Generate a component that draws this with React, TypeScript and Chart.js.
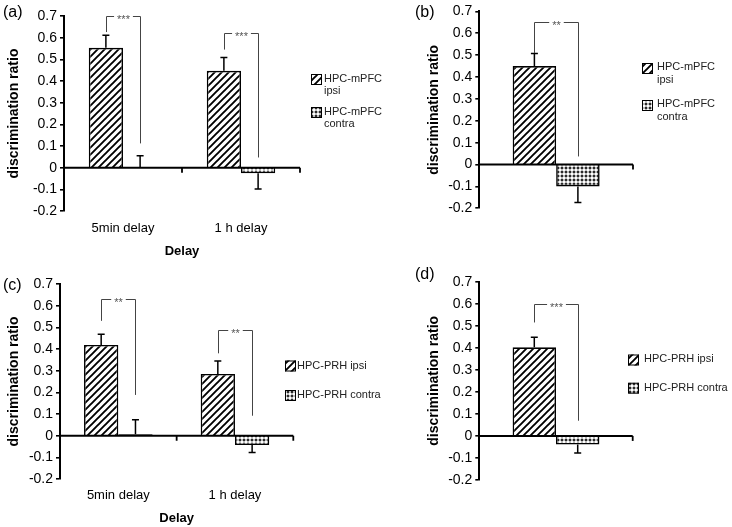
import React, { useEffect, useRef } from 'react';
import { Chart, registerables } from 'chart.js';

Chart.register(...registerables);

const FONT = '"Liberation Sans", Arial, Helvetica, sans-serif';

// ---- axis range ----
const Y_MIN = -0.2;
const Y_MAX = 0.7;
const Y_STEP = 0.1;
const Y_TITLE = 'discrimination ratio';
const X_TITLE = 'Delay';

// ---- categories ----
const delayCategories = ['5min delay', '1 h delay'];
const singleCategory = [''];

// ---- legend labels ----
const mpfcIpsiLegend = ['HPC-mPFC', 'ipsi'];
const mpfcContraLegend = ['HPC-mPFC', 'contra'];
const prhIpsiLegend = ['HPC-PRH ipsi'];
const prhContraLegend = ['HPC-PRH contra'];

// ---- panel (a) ----
const aIpsi = [0.553, 0.447];
const aIpsiSem = [0.058, 0.061];
const aContra = [0.003, -0.026];
const aContraSem = [0.052, 0.073];
const aBracketFrom = [0.626, 0.545];
const aBracketTop = [0.7, 0.623];
const aBracketTo = [0.112, 0.047];
const aStars = ['***', '***'];

// ---- panel (b) ----
const bIpsi = [0.45];
const bIpsiSem = [0.058];
const bContra = [-0.1];
const bContraSem = [0.073];
const bBracketFrom = [0.51];
const bBracketTop = [0.653];
const bBracketTo = [0.037];
const bStars = ['**'];

// ---- panel (c) ----
const cIpsi = [0.419, 0.285];
const cIpsiSem = [0.049, 0.06];
const cContra = [0.007, -0.043];
const cContraSem = [0.067, 0.035];
const cBracketFrom = [0.53, 0.38];
const cBracketTop = [0.629, 0.488];
const cBracketTo = [0.188, 0.092];
const cStars = ['**', '**'];

// ---- panel (d) ----
const dIpsi = [0.402];
const dIpsiSem = [0.046];
const dContra = [-0.039];
const dContraSem = [0.038];
const dBracketFrom = [0.515];
const dBracketTop = [0.597];
const dBracketTo = [0.069];
const dStars = ['***'];

type Layout = {
  left: number; top: number; w: number; h: number;
  padLeft: number; padTop: number; padRight: number;
  yWidth: number; xHeight: number; yTitlePad: number;
  xTickPad: number; xTitlePadBottom: number; catPct: number;
  letterX: number; letterY: number;
  swatchX: number; swatchTops: number[]; textX: number; textCenters: number[]; lineH: number;
};

type Spec = {
  letter: string;
  categories: string[];
  showX: boolean;
  ipsi: number[]; ipsiSem: number[];
  contra: number[]; contraSem: number[];
  bracketFrom: number[]; bracketTop: number[]; bracketTo: number[]; stars: string[];
  ipsiLegend: string[]; contraLegend: string[];
  L: Layout;
};

const panels: Spec[] = [
  {
    letter: '(a)', categories: delayCategories, showX: true,
    ipsi: aIpsi, ipsiSem: aIpsiSem, contra: aContra, contraSem: aContraSem,
    bracketFrom: aBracketFrom, bracketTop: aBracketTop, bracketTo: aBracketTo, stars: aStars,
    ipsiLegend: mpfcIpsiLegend, contraLegend: mpfcContraLegend,
    L: {
      left: 0, top: 0, w: 400, h: 264, padLeft: 0, padTop: 16, padRight: 100,
      yWidth: 64, xHeight: 53, yTitlePad: 6, xTickPad: 10, xTitlePadBottom: 4.6, catPct: 0.58,
      letterX: 3, letterY: 13, swatchX: 311, swatchTops: [74, 107], textX: 324,
      textCenters: [79, 112], lineH: 12,
    },
  },
  {
    letter: '(b)', categories: singleCategory, showX: false,
    ipsi: bIpsi, ipsiSem: bIpsiSem, contra: bContra, contraSem: bContraSem,
    bracketFrom: bBracketFrom, bracketTop: bBracketTop, bracketTo: bBracketTo, stars: bStars,
    ipsiLegend: mpfcIpsiLegend, contraLegend: mpfcContraLegend,
    L: {
      left: 366, top: 0, w: 366, h: 264, padLeft: 54, padTop: 8.4, padRight: 99,
      yWidth: 59.3, xHeight: 55.7, yTitlePad: 6, xTickPad: 9, xTitlePadBottom: 4, catPct: 0.566,
      letterX: 49, letterY: 13, swatchX: 276, swatchTops: [63, 100], textX: 291,
      textCenters: [67, 104], lineH: 13,
    },
  },
  {
    letter: '(c)', categories: delayCategories, showX: true,
    ipsi: cIpsi, ipsiSem: cIpsiSem, contra: cContra, contraSem: cContraSem,
    bracketFrom: cBracketFrom, bracketTop: cBracketTop, bracketTo: cBracketTo, stars: cStars,
    ipsiLegend: prhIpsiLegend, contraLegend: prhContraLegend,
    L: {
      left: 0, top: 264, w: 400, h: 263, padLeft: 0, padTop: 20, padRight: 106.7,
      yWidth: 60, xHeight: 48, yTitlePad: 5.6, xTickPad: 8.6, xTitlePadBottom: 1, catPct: 0.588,
      letterX: 3, letterY: 22, swatchX: 285, swatchTops: [96.5, 126], textX: 297,
      textCenters: [101.5, 131], lineH: 12,
    },
  },
  {
    letter: '(d)', categories: singleCategory, showX: false,
    ipsi: dIpsi, ipsiSem: dIpsiSem, contra: dContra, contraSem: dContraSem,
    bracketFrom: dBracketFrom, bracketTop: dBracketTop, bracketTo: dBracketTo, stars: dStars,
    ipsiLegend: prhIpsiLegend, contraLegend: prhContraLegend,
    L: {
      left: 366, top: 264, w: 366, h: 263, padLeft: 54, padTop: 17.7, padRight: 99.3,
      yWidth: 59.3, xHeight: 47, yTitlePad: 6, xTickPad: 9, xTitlePadBottom: 4, catPct: 0.566,
      letterX: 49, letterY: 11, swatchX: 262, swatchTops: [90.5, 118.7], textX: 278,
      textCenters: [95.3, 123.7], lineH: 12,
    },
  },
];

function makeHatch(ctx: CanvasRenderingContext2D): CanvasPattern {
  const s = 7;
  const c = document.createElement('canvas');
  c.width = s; c.height = s;
  const g = c.getContext('2d')!;
  g.fillStyle = '#fff';
  g.fillRect(0, 0, s, s);
  g.strokeStyle = '#000';
  g.lineWidth = 1.9;
  g.beginPath();
  g.moveTo(-1, s + 1); g.lineTo(s + 1, -1);
  g.moveTo(-1, 1); g.lineTo(1, -1);
  g.moveTo(s - 1, s + 1); g.lineTo(s + 1, s - 1);
  g.stroke();
  return ctx.createPattern(c, 'repeat')!;
}

function makeDots(ctx: CanvasRenderingContext2D): CanvasPattern {
  const c = document.createElement('canvas');
  c.width = 4; c.height = 4;
  const g = c.getContext('2d')!;
  g.fillStyle = '#2a2a2a';
  g.fillRect(0, 0, 4, 4);
  g.fillStyle = '#fff';
  g.fillRect(1, 1, 2, 2);
  g.fillStyle = '#bbb';
  g.fillRect(1, 0, 2, 1);
  g.fillRect(0, 1, 1, 2);
  g.fillRect(3, 1, 1, 2);
  g.fillRect(1, 3, 2, 1);
  return ctx.createPattern(c, 'repeat')!;
}

function fmtTick(v: number | string): string {
  const r = Math.round(Number(v) * 10) / 10;
  return r === 0 ? '0' : r.toFixed(1);
}

function Panel({ spec }: { spec: Spec }) {
  const ref = useRef<HTMLCanvasElement>(null);
  const L = spec.L;

  useEffect(() => {
    const canvas = ref.current!;
    const ctx = canvas.getContext('2d')!;
    const hatch = makeHatch(ctx);
    const dots = makeDots(ctx);
    const fills = [hatch, dots];

    const zeroLinePlugin = {
      id: 'zeroLine',
      afterDatasetsDraw(chart: any) {
        const { ctx: c } = chart;
        const x = chart.scales.x;
        const y = chart.scales.y;
        const y0 = y.getPixelForValue(0);
        c.save();
        c.strokeStyle = '#000';
        c.lineWidth = 2;
        c.beginPath();
        c.moveTo(x.left - 1, y0);
        c.lineTo(x.right, y0);
        c.stroke();
        const n = spec.categories.length;
        const bounds: number[] = [];
        for (let i = 1; i < n; i++) {
          bounds.push((x.getPixelForValue(i - 1) + x.getPixelForValue(i)) / 2);
        }
        bounds.push(x.right);
        c.lineWidth = 1.8;
        c.beginPath();
        bounds.forEach((bx) => {
          c.moveTo(bx, y0);
          c.lineTo(bx, y0 + 5);
        });
        c.stroke();
        c.restore();
      },
    };

    const errorBarPlugin = {
      id: 'errorBars',
      afterDatasetsDraw(chart: any) {
        const { ctx: c } = chart;
        const y = chart.scales.y;
        const sets = [
          { vals: spec.ipsi, sem: spec.ipsiSem },
          { vals: spec.contra, sem: spec.contraSem },
        ];
        c.save();
        c.strokeStyle = '#000';
        c.lineWidth = 1.5;
        sets.forEach((s, d) => {
          const meta = chart.getDatasetMeta(d);
          meta.data.forEach((bar: any, i: number) => {
            const v = s.vals[i];
            const end = v >= 0 ? v + s.sem[i] : v - s.sem[i];
            const ys = y.getPixelForValue(v);
            const ye = y.getPixelForValue(end);
            c.beginPath();
            c.moveTo(bar.x, ys);
            c.lineTo(bar.x, ye);
            c.moveTo(bar.x - 3.5, ye);
            c.lineTo(bar.x + 3.5, ye);
            c.stroke();
          });
        });
        c.restore();
      },
    };

    const bracketPlugin = {
      id: 'brackets',
      afterDatasetsDraw(chart: any) {
        const { ctx: c } = chart;
        const y = chart.scales.y;
        const m0 = chart.getDatasetMeta(0);
        const m1 = chart.getDatasetMeta(1);
        c.save();
        c.strokeStyle = '#444';
        c.fillStyle = '#555';
        c.lineWidth = 1;
        c.font = `11px ${FONT}`;
        c.textAlign = 'center';
        c.textBaseline = 'alphabetic';
        spec.stars.forEach((label, i) => {
          const xl = Math.round(m0.data[i].x) + 0.5;
          const xr = Math.round(m1.data[i].x) + 0.5;
          const yf = y.getPixelForValue(spec.bracketFrom[i]);
          const yt = Math.round(y.getPixelForValue(spec.bracketTop[i])) + 0.5;
          const yb = y.getPixelForValue(spec.bracketTo[i]);
          const xm = (xl + xr) / 2;
          const tw = c.measureText(label).width;
          c.beginPath();
          c.moveTo(xl, yf);
          c.lineTo(xl, yt);
          c.lineTo(xm - tw / 2 - 3, yt);
          c.moveTo(xm + tw / 2 + 3, yt);
          c.lineTo(xr, yt);
          c.lineTo(xr, yb);
          c.stroke();
          c.fillText(label, xm, yt + 6.5);
        });
        c.restore();
      },
    };

    const decorPlugin = {
      id: 'decor',
      afterDraw(chart: any) {
        const { ctx: c } = chart;
        c.save();
        c.fillStyle = '#000';
        c.font = `16px ${FONT}`;
        c.textAlign = 'left';
        c.textBaseline = 'middle';
        c.fillText(spec.letter, L.letterX, L.letterY);
        const legends = [spec.ipsiLegend, spec.contraLegend];
        c.font = `11px ${FONT}`;
        legends.forEach((lines, k) => {
          const top = L.swatchTops[k];
          c.fillStyle = fills[k];
          c.fillRect(L.swatchX, top, 11, 11);
          c.strokeStyle = '#000';
          c.lineWidth = 1;
          c.strokeRect(L.swatchX + 0.5, top + 0.5, 10, 10);
          c.fillStyle = '#222';
          lines.forEach((t, j) => {
            c.fillText(t, L.textX, L.textCenters[k] + j * L.lineH);
          });
        });
        c.restore();
      },
    };

    const chart = new Chart(canvas, {
      type: 'bar',
      data: {
        labels: spec.categories,
        datasets: [
          {
            label: spec.ipsiLegend.join(' '),
            data: spec.ipsi,
            backgroundColor: hatch as any,
            borderColor: '#000',
            borderWidth: 1.6,
          },
          {
            label: spec.contraLegend.join(' '),
            data: spec.contra,
            backgroundColor: dots as any,
            borderColor: '#000',
            borderWidth: 1.6,
          },
        ],
      },
      options: {
        responsive: false,
        animation: false,
        events: [],
        layout: { padding: { left: L.padLeft, top: L.padTop, right: L.padRight, bottom: 0 } },
        datasets: { bar: { categoryPercentage: L.catPct, barPercentage: 1.0 } },
        plugins: { legend: { display: false }, tooltip: { enabled: false } },
        scales: {
          x: {
            type: 'category',
            grid: { display: false, drawTicks: false },
            border: { display: false },
            ticks: {
              display: spec.showX,
              color: '#000',
              font: { size: 13, family: FONT },
              padding: L.xTickPad,
              maxRotation: 0,
              autoSkip: false,
            },
            title: {
              display: spec.showX,
              text: X_TITLE,
              color: '#000',
              font: { size: 13, weight: 'bold', family: FONT },
              padding: { top: 0, bottom: L.xTitlePadBottom },
            },
            afterFit: (s: any) => { s.height = L.xHeight; },
          },
          y: {
            min: Y_MIN,
            max: Y_MAX,
            ticks: {
              stepSize: Y_STEP,
              color: '#000',
              font: { size: 14, family: FONT },
              padding: 3,
              callback: (v: any) => fmtTick(v),
            },
            grid: { drawOnChartArea: false, drawTicks: true, tickLength: 4, color: '#000', lineWidth: 1.6 },
            border: { display: true, color: '#000', width: 2 },
            title: {
              display: true,
              text: Y_TITLE,
              color: '#000',
              font: { size: 14, weight: 'bold', family: FONT },
              padding: { top: L.yTitlePad, bottom: 0 },
            },
            afterFit: (s: any) => { s.width = L.yWidth; },
          },
        },
      } as any,
      plugins: [zeroLinePlugin, errorBarPlugin, bracketPlugin, decorPlugin],
    });

    return () => chart.destroy();
  }, []);

  return (
    <canvas
      ref={ref}
      width={L.w}
      height={L.h}
      style={{ position: 'absolute', left: L.left, top: L.top, width: L.w, height: L.h }}
    />
  );
}

export default function App() {
  return (
    <div style={{ position: 'fixed', left: 0, top: 0, width: 732, height: 527, background: '#fff' }}>
      {panels.map((p) => (
        <Panel key={p.letter} spec={p} />
      ))}
    </div>
  );
}
